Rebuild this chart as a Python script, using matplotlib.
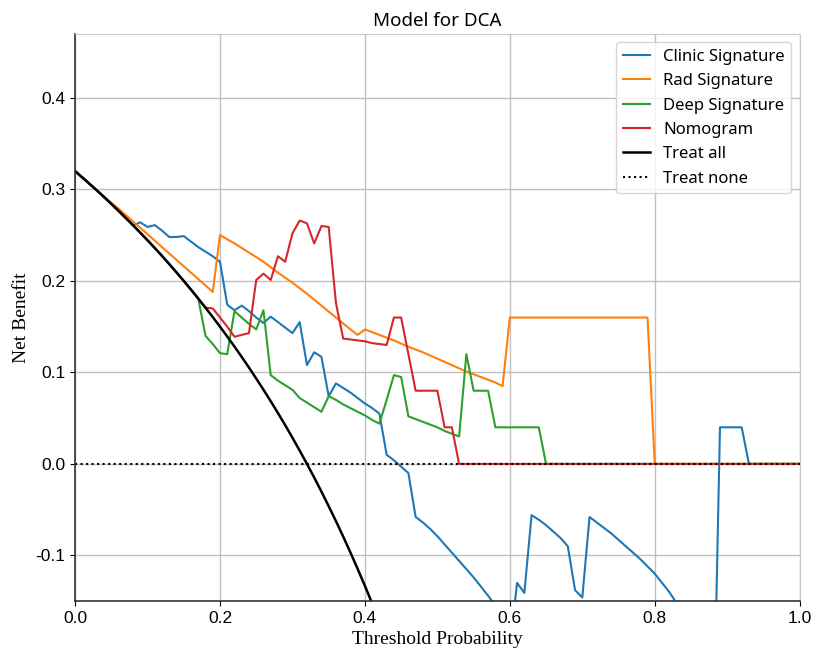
import numpy as np
import matplotlib.pyplot as plt

plt.rcParams['axes.unicode_minus'] = False

# thresholds at 0.01 steps
thresh = np.round(np.arange(0, 1.0001, 0.01), 2)

# treat all curve (0.00 .. 0.45)
treat_all = [0.3200, 0.3131, 0.3061, 0.2990, 0.2917, 0.2842, 0.2766, 0.2688, 0.2609, 0.2527,
             0.2444, 0.2360, 0.2273, 0.2184, 0.2093, 0.2000, 0.1905, 0.1807, 0.1707, 0.1605,
             0.1500, 0.1392, 0.1282, 0.1169, 0.1053, 0.0933, 0.0811, 0.0685, 0.0556, 0.0423,
             0.0286, 0.0145, 0.0000, -0.0149, -0.0303, -0.0462, -0.0625, -0.0794, -0.0968, -0.1148,
             -0.1333, -0.1525, -0.1724, -0.1930, -0.2143, -0.2364]

# Clinic Signature, from 0.09 (before that it sits on treat all)
clinic_tail = [0.264, 0.259, 0.261, 0.255, 0.248, 0.248, 0.249, 0.243, 0.237, 0.232,
               0.227, 0.221, 0.174, 0.168, 0.173, 0.167, 0.160, 0.154, 0.161, 0.155,
               0.149, 0.143, 0.155, 0.108, 0.122, 0.117, 0.074, 0.088, 0.083, 0.078,
               0.072, 0.066, 0.061, 0.055, 0.010, 0.004, -0.003, -0.010, -0.058, -0.064,
               -0.071, -0.079, -0.088, -0.097, -0.106, -0.115, -0.124, -0.134, -0.144, -0.155,
               -0.167, -0.200, -0.130, -0.141, -0.056, -0.061, -0.067, -0.074, -0.081, -0.090,
               -0.138, -0.146, -0.058, -0.064, -0.070, -0.076, -0.083, -0.090, -0.097, -0.104,
               -0.112, -0.120, -0.130, -0.140, -0.152, -0.170, -0.200, -0.230, -0.280, -0.340,
               0.040, 0.040, 0.040, 0.040, 0.0, 0.0, 0.0, 0.0, 0.0, 0.0,
               0.0, 0.0]
clinic = treat_all[:9] + clinic_tail

# Rad Signature
rad_x = [0.00, 0.02, 0.04, 0.06, 0.08, 0.10, 0.12, 0.14, 0.16, 0.18, 0.19, 0.20,
         0.22, 0.24, 0.26, 0.28, 0.30, 0.32, 0.34, 0.36, 0.38, 0.39, 0.40,
         0.42, 0.44, 0.46, 0.48, 0.50, 0.52, 0.54, 0.56, 0.58, 0.59, 0.60,
         0.79, 0.80, 1.00]
rad = [0.320, 0.306, 0.292, 0.279, 0.265, 0.251, 0.237, 0.223, 0.209, 0.195, 0.188, 0.250,
       0.241, 0.231, 0.221, 0.209, 0.198, 0.186, 0.173, 0.160, 0.147, 0.141, 0.147,
       0.141, 0.135, 0.128, 0.122, 0.115, 0.108, 0.101, 0.095, 0.089, 0.085, 0.160,
       0.160, 0.0, 0.0]

# Deep Signature, from 0.18
deep_tail = [0.140, 0.131, 0.121, 0.120, 0.167, 0.160, 0.153, 0.147, 0.168, 0.097,
             0.091, 0.086, 0.081, 0.072, 0.067, 0.062, 0.057, 0.074, 0.070, 0.065,
             0.061, 0.057, 0.053, 0.048, 0.044, 0.070, 0.097, 0.095, 0.052, 0.049,
             0.046, 0.043, 0.040, 0.036, 0.033, 0.030, 0.120, 0.080, 0.080, 0.080,
             0.040, 0.040, 0.040, 0.040, 0.040, 0.040, 0.040, 0.0]
deep = treat_all[:18] + deep_tail + [0.0] * (len(thresh) - 18 - len(deep_tail))

# Nomogram, from 0.19
nomo_tail = [0.170, 0.160, 0.150, 0.139, 0.141, 0.143, 0.201, 0.208, 0.201, 0.227,
             0.221, 0.252, 0.266, 0.263, 0.241, 0.260, 0.259, 0.176, 0.137, 0.136,
             0.135, 0.134, 0.132, 0.131, 0.130, 0.160, 0.160, 0.120, 0.080, 0.080,
             0.080, 0.080, 0.040, 0.040, 0.0]
nomo = treat_all[:19] + nomo_tail + [0.0] * (len(thresh) - 19 - len(nomo_tail))

fig = plt.figure(figsize=(8.16, 6.52), dpi=100)
ax = fig.add_axes([0.092, 0.078, 0.888, 0.870])

ax.plot(thresh, clinic, color='#1f77b4', lw=1.5, label='Clinic Signature')
ax.plot(rad_x, rad, color='#ff7f0e', lw=1.5, label='Rad Signature')
ax.plot(thresh, deep, color='#2ca02c', lw=1.5, label='Deep Signature')
ax.plot(thresh, nomo, color='#d62728', lw=1.5, label='Nomogram')
ax.plot(thresh[:len(treat_all)], treat_all, color='black', lw=1.8, label='Treat all')
ax.plot([0, 1], [0, 0], color='black', lw=1.5, ls=':', label='Treat none')

ax.set_xlim(0, 1)
ax.set_ylim(-0.15, 0.47)
ax.set_xticks([0.0, 0.2, 0.4, 0.6, 0.8, 1.0])
ax.set_yticks([-0.1, 0.0, 0.1, 0.2, 0.3, 0.4])
ax.grid(True, color='#c0c0c0', lw=1)
ax.set_axisbelow(True)
for s in ['top', 'right']:
    ax.spines[s].set_color('#c8c8c8')
for s in ['left', 'bottom']:
    ax.spines[s].set_color('#333333')
    ax.spines[s].set_linewidth(1.2)
ax.tick_params(labelsize=12.5)
for lab in ax.get_xticklabels() + ax.get_yticklabels():
    lab.set_family(['Liberation Sans Narrow', 'Liberation Sans'])

ax.set_title('Model for DCA', fontsize=13.5, family=['Noto Sans', 'DejaVu Sans'])
ax.set_xlabel('Threshold Probability', family='Liberation Serif', fontsize=14)
ax.set_ylabel('Net Benefit', family='Liberation Serif', fontsize=14)
ax.legend(loc='upper right', prop={'family': 'Noto Sans', 'size': 12},
          handlelength=1.6, labelspacing=0.5)

plt.savefig('out.png')
